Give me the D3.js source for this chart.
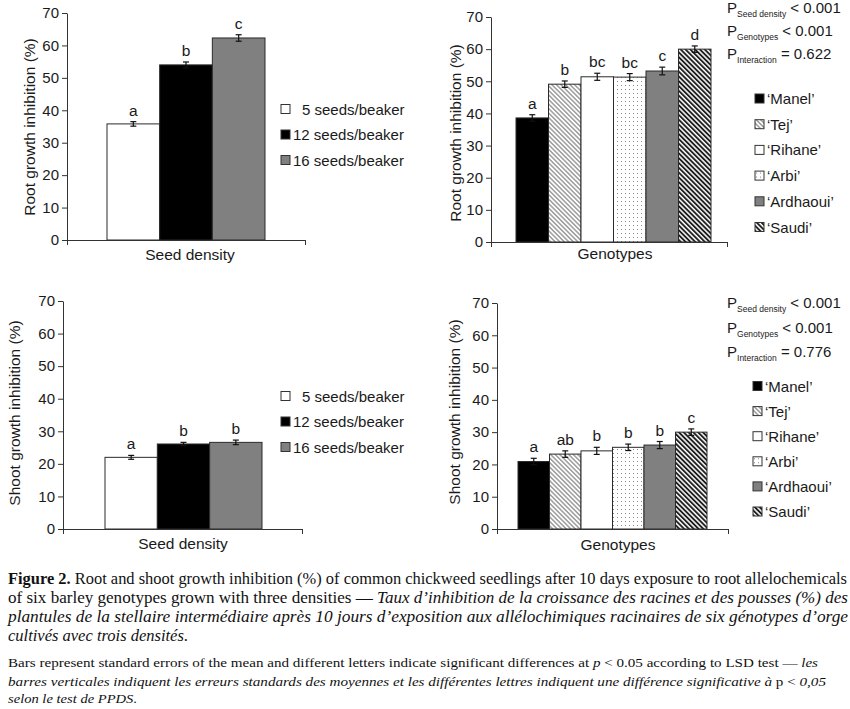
<!DOCTYPE html>
<html>
<head>
<meta charset="utf-8">
<script src="https://cdn.jsdelivr.net/npm/d3@7"></script>
<style>
  body { margin: 0; background: #fff; }
  svg { display: block; }
  .chart text { font-family: "Liberation Sans", Arial, sans-serif; fill: #1a1a1a; }
  .caption text { font-family: "Liberation Serif", "Times New Roman", serif; fill: #111; white-space: pre; }
</style>
</head>
<body>
<svg id="fig" width="850" height="709"></svg>
<script>
// Data
const densities = ["5 seeds/beaker", "12 seeds/beaker", "16 seeds/beaker"];
const genotypes = ["‘Manel’", "‘Tej’", "‘Rihane’", "‘Arbi’", "‘Ardhaoui’", "‘Saudi’"];
const yTicks = [0, 10, 20, 30, 40, 50, 60, 70];

const rootDensity = [35.8, 54.0, 62.3];
const rootDensityErr = [0.7, 0.9, 1.0];
const rootDensityLetters = ["a", "b", "c"];

const rootGenotype = [38.6, 49.1, 51.4, 51.3, 53.2, 60.0];
const rootGenotypeErr = [1.0, 1.0, 1.1, 1.1, 1.2, 1.0];
const rootGenotypeLetters = ["a", "b", "bc", "bc", "c", "d"];

const shootDensity = [22.0, 26.1, 26.6];
const shootDensityErr = [0.6, 0.5, 0.7];
const shootDensityLetters = ["a", "b", "b"];

const shootGenotype = [20.9, 23.2, 24.2, 25.3, 26.0, 30.0];
const shootGenotypeErr = [1.0, 1.0, 1.1, 1.0, 1.1, 1.0];
const shootGenotypeLetters = ["a", "ab", "b", "b", "b", "c"];

const rootPValues = [["Seed density", "< 0.001"], ["Genotypes", "< 0.001"], ["Interaction", "= 0.622"]];
const shootPValues = [["Seed density", "< 0.001"], ["Genotypes", "< 0.001"], ["Interaction", "= 0.776"]];

// Fills (styles kept apart from the data)
const densityFills = ["#fff", "#000", "#808080"];
const genotypeFills = ["#000", "url(#tej)", "#fff", "url(#arbi)", "#808080", "url(#saudi)"];

const svg = d3.select("#fig");
const chart = svg.append("g").attr("class", "chart");

// Hatch patterns
const defs = svg.append("defs");
const tej = defs.append("pattern").attr("id", "tej").attr("patternUnits", "userSpaceOnUse")
  .attr("width", 3.2).attr("height", 3.2).attr("patternTransform", "rotate(-45)");
tej.append("rect").attr("width", 3.2).attr("height", 3.2).attr("fill", "#fff");
tej.append("line").attr("x1", 0.8).attr("x2", 0.8).attr("y1", 0).attr("y2", 3.2)
  .attr("stroke", "#777").attr("stroke-width", 1.1);
const saudi = defs.append("pattern").attr("id", "saudi").attr("patternUnits", "userSpaceOnUse")
  .attr("width", 3.4).attr("height", 3.4).attr("patternTransform", "rotate(-45)");
saudi.append("rect").attr("width", 3.4).attr("height", 3.4).attr("fill", "#fff");
saudi.append("line").attr("x1", 1).attr("x2", 1).attr("y1", 0).attr("y2", 3.4)
  .attr("stroke", "#111").attr("stroke-width", 1.8);
const arbi = defs.append("pattern").attr("id", "arbi").attr("patternUnits", "userSpaceOnUse")
  .attr("width", 4).attr("height", 4);
arbi.append("rect").attr("width", 4).attr("height", 4).attr("fill", "#fff");
arbi.append("rect").attr("x", 1).attr("y", 1).attr("width", 1).attr("height", 1).attr("fill", "#888");

/**
 * Draw one bar panel with axes, error bars, letters and legend.
 */
function drawPanel (cfg) {
  const g = chart.append("g");
  const y = d3.scaleLinear().domain([0, 70]).range([cfg.yBot, cfg.yTop]);
  const x = d3.scaleBand().domain(cfg.cats).range([cfg.barL, cfg.barR]).padding(0);

  // bars
  g.selectAll("rect.bar").data(cfg.values).enter().append("rect")
    .attr("class", "bar")
    .attr("x", (d, i) => x(cfg.cats[i]))
    .attr("y", d => y(d))
    .attr("width", x.bandwidth())
    .attr("height", d => y(0) - y(d))
    .attr("fill", (d, i) => cfg.fills[i])
    .attr("stroke", "#2a2a2a").attr("stroke-width", 1);

  // error bars
  const eb = g.selectAll("g.err").data(cfg.values).enter().append("g")
    .attr("transform", (d, i) => `translate(${x(cfg.cats[i]) + x.bandwidth() / 2},0)`);
  eb.append("line").attr("y1", (d, i) => y(d - cfg.errs[i])).attr("y2", (d, i) => y(d + cfg.errs[i]))
    .attr("stroke", "#111").attr("stroke-width", 1.2);
  eb.append("line").attr("x1", -3).attr("x2", 3)
    .attr("y1", (d, i) => y(d + cfg.errs[i])).attr("y2", (d, i) => y(d + cfg.errs[i]))
    .attr("stroke", "#111").attr("stroke-width", 1.2);
  eb.append("line").attr("x1", -3).attr("x2", 3)
    .attr("y1", (d, i) => y(d - cfg.errs[i])).attr("y2", (d, i) => y(d - cfg.errs[i]))
    .attr("stroke", "#111").attr("stroke-width", 1.2);
  eb.append("text").attr("text-anchor", "middle").attr("font-size", 15.5)
    .attr("y", (d, i) => y(d + cfg.errs[i]) - 6)
    .text((d, i) => cfg.letters[i]);

  // axes
  const ya = g.append("g").attr("transform", `translate(${cfg.x0},0)`)
    .call(d3.axisLeft(y).tickValues(yTicks).tickSize(5).tickSizeOuter(0).tickPadding(3));
  const xs = d3.scaleLinear().domain([0, 1]).range([cfg.x0, cfg.x1]);
  const xa = g.append("g").attr("transform", `translate(0,${cfg.yBot})`)
    .call(d3.axisBottom(xs).tickValues([0, 1]).tickSize(5).tickSizeOuter(0).tickFormat(""));
  [ya, xa].forEach(a => {
    a.attr("font-family", null).attr("font-size", 15);
    a.selectAll("path, line").attr("stroke", "#333");
  });
  ya.selectAll("text").attr("fill", "#1a1a1a");

  // axis titles
  g.append("text").attr("x", cfg.xLabelX).attr("y", cfg.xLabelY).attr("text-anchor", "middle")
    .attr("font-size", 15.5).text(cfg.xLabel);
  g.append("text").attr("transform", `translate(${cfg.yLabelX},${cfg.yLabelY}) rotate(-90)`)
    .attr("text-anchor", "middle").attr("dominant-baseline", "central")
    .attr("font-size", 15.5).text(cfg.yLabel);

  // legend
  const lg = g.selectAll("g.leg").data(cfg.cats).enter().append("g")
    .attr("transform", (d, i) => `translate(${cfg.legX},${cfg.legY + i * cfg.legStep})`);
  lg.append("rect").attr("x", 0).attr("y", -4.5).attr("width", 9).attr("height", 9)
    .attr("fill", (d, i) => cfg.fills[i]).attr("stroke", "#333").attr("stroke-width", 1);
  lg.append("text").attr("x", d => 12 + (/^\d\s/.test(d) ? 9 : 0)).attr("y", 5.5)
    .attr("font-size", 15).text(d => d);

  // p-values
  if (cfg.pValues) {
    cfg.pValues.forEach((p, i) => {
      const t = g.append("text").attr("x", cfg.pX).attr("y", cfg.pY + i * cfg.pStep).attr("font-size", 15);
      t.append("tspan").text("P");
      t.append("tspan").attr("font-size", 8.5).attr("dy", 4).text(p[0]);
      t.append("tspan").attr("dy", -4).text(" " + p[1]);
    });
  }
}

drawPanel({
  cats: densities, values: rootDensity, errs: rootDensityErr, letters: rootDensityLetters, fills: densityFills,
  x0: 67, x1: 305, yTop: 13, yBot: 240, barL: 107, barR: 265,
  xLabel: "Seed density", xLabelX: 190, xLabelY: 260,
  yLabel: "Root growth inhibition (%)", yLabelX: 29, yLabelY: 127,
  legX: 281, legY: 109, legStep: 25.5
});

drawPanel({
  cats: genotypes, values: rootGenotype, errs: rootGenotypeErr, letters: rootGenotypeLetters, fills: genotypeFills,
  x0: 491, x1: 727, yTop: 17, yBot: 242, barL: 516, barR: 711,
  xLabel: "Genotypes", xLabelX: 615, xLabelY: 259,
  yLabel: "Root growth inhibition (%)", yLabelX: 455, yLabelY: 133,
  legX: 755, legY: 98.5, legStep: 25.7,
  pValues: rootPValues, pX: 727, pY: 13, pStep: 23
});

drawPanel({
  cats: densities, values: shootDensity, errs: shootDensityErr, letters: shootDensityLetters, fills: densityFills,
  x0: 63, x1: 302, yTop: 301, yBot: 529, barL: 105, barR: 262,
  xLabel: "Seed density", xLabelX: 183, xLabelY: 549,
  yLabel: "Shoot growth inhibition (%)", yLabelX: 14, yLabelY: 413,
  legX: 281, legY: 396, legStep: 25.5
});

drawPanel({
  cats: genotypes, values: shootGenotype, errs: shootGenotypeErr, letters: shootGenotypeLetters, fills: genotypeFills,
  x0: 497, x1: 728, yTop: 303, yBot: 529, barL: 518, barR: 707,
  xLabel: "Genotypes", xLabelX: 618, xLabelY: 550,
  yLabel: "Shoot growth inhibition (%)", yLabelX: 454, yLabelY: 412,
  legX: 753, legY: 386, legStep: 25.1,
  pValues: shootPValues, pX: 727, pY: 308, pStep: 24.5
});

// Caption
const captionLines = [
  { y: 584, len: 839, size: 16, segs: [["Figure 2.", "b"], [" Root and shoot growth inhibition (%) of common chickweed seedlings after 10 days exposure to root allelochemicals", ""]] },
  { y: 603, len: 840, size: 16, segs: [["of six barley genotypes grown with three densities — ", ""], ["Taux d’inhibition de la croissance des racines et des pousses (%) des", "i"]] },
  { y: 622, len: 840, size: 16, segs: [["plantules de la stellaire intermédiaire après 10 jours d’exposition aux allélochimiques racinaires de six génotypes d’orge", "i"]] },
  { y: 641, len: 180, size: 16, segs: [["cultivés avec trois densités", "i"], [".", ""]] },
  { y: 667, len: 810, size: 13.5, segs: [["Bars represent standard errors of the mean and different letters indicate significant differences at ", ""], ["p", "i"], [" < 0.05 according to LSD test — ", ""], ["les", "i"]] },
  { y: 686, len: 818, size: 13.5, segs: [["barres verticales indiquent les erreurs standards des moyennes et les différentes lettres indiquent une différence significative à", "i"], [" p < ", ""], ["0,05", "i"]] },
  { y: 703, len: 129, size: 13.5, segs: [["selon le test de PPDS", "i"], [".", ""]] }
];

const cap = svg.append("g").attr("class", "caption");
captionLines.forEach(l => {
  const t = cap.append("text").attr("x", 8).attr("y", l.y).attr("font-size", l.size)
    .attr("textLength", l.len).attr("lengthAdjust", "spacingAndGlyphs");
  l.segs.forEach(s => {
    t.append("tspan")
      .attr("font-weight", s[1] === "b" ? "bold" : null)
      .attr("font-style", s[1] === "i" ? "italic" : null)
      .text(s[0]);
  });
});
</script>
</body>
</html>
